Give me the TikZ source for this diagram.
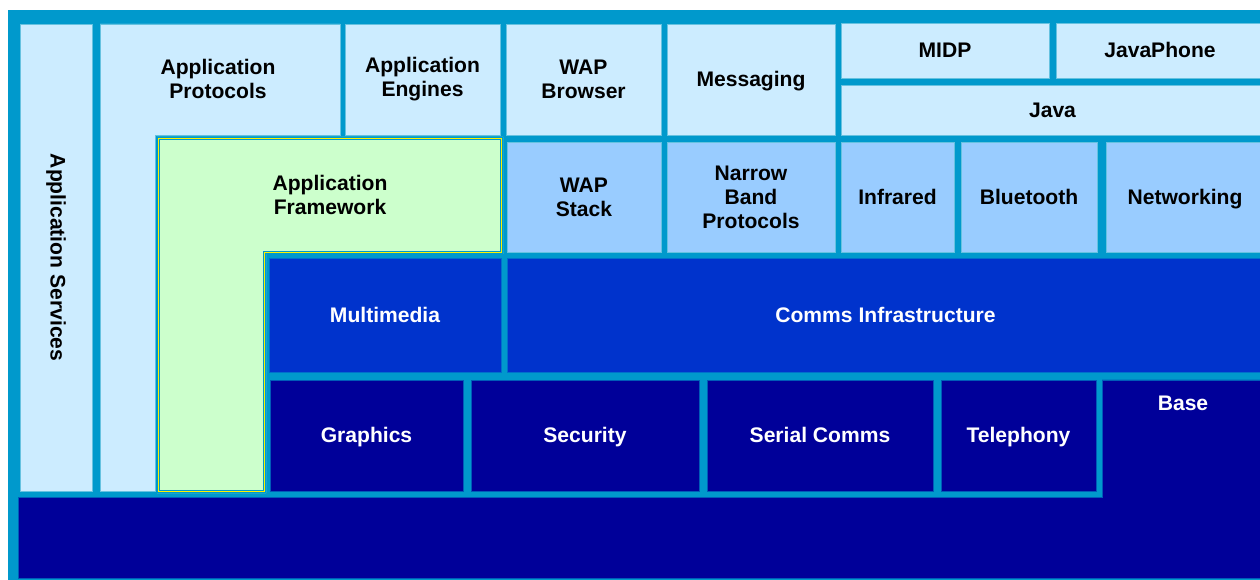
\documentclass[tikz,border=0pt]{standalone}
\usepackage{fontspec}
\setmainfont{Liberation Sans}
\definecolor{bgcyan}{HTML}{0099CC}
\definecolor{cellpale}{HTML}{CCECFF}
\definecolor{cellsky}{HTML}{99CCFF}
\definecolor{cellgreen}{HTML}{CCFFCC}
\definecolor{cellroyal}{HTML}{0033CC}
\definecolor{cellnavy}{HTML}{000099}
\tikzset{
  lightcell/.style={fill=cellpale, draw=bgcyan!60!white, line width=0.5pt},
  skycell/.style={fill=cellsky, draw=bgcyan!60!white, line width=0.5pt},
  royalcell/.style={fill=cellroyal, draw=bgcyan!60!cellroyal, line width=0.5pt},
  navycell/.style={fill=cellnavy, draw=bgcyan!60!cellnavy, line width=0.5pt},
  darklabel/.style={text=black, align=center, font=\fontsize{12}{13.6}\selectfont\bfseries},
  whitelabel/.style={text=white, align=center, font=\fontsize{12}{13.6}\selectfont\bfseries},
  oneline/.style={text height=0.9em, text depth=0.1em}
}
\begin{document}
\begin{tikzpicture}[x=0.02cm, y=-0.02cm]
        \useasboundingbox (0,0) rectangle (1260,580);
        \fill[bgcyan] (8,10) rectangle (1260,580);

        % 1. application services and protocols
        \draw[lightcell] (20,24) rectangle node[darklabel, rotate=-90] (appserv) {Application Services} (92,491);
        \draw[lightcell] (100,24) -- (340,24) -- (340,135) -- (155,135) -- (155,491) -- (100,491) -- cycle;
        \node[darklabel] (approt) at (218,79) {Application\\Protocols};

        % 2. top row
        \draw[lightcell] (345,24) rectangle node[darklabel] (appeng) {Application\\Engines} (500,135);
        \draw[lightcell] (506,24) rectangle node[darklabel] (wapbrow) {WAP\\Browser} (661,135);
        \draw[lightcell] (667,24) rectangle node[darklabel, oneline] (msg) {Messaging} (835,135);
        \draw[lightcell] (841,23) rectangle node[darklabel, oneline] (midp) {MIDP} (1049,78);
        \draw[lightcell] (1056,23) rectangle node[darklabel, oneline] (javaphone) {JavaPhone} (1264,78);
        \draw[lightcell] (841,85) rectangle node[darklabel, oneline] (java) {Java} (1264,135);

        % 3. application framework
        \fill[cellgreen] (157,137) -- (503,137) -- (503,254) -- (266,254) -- (266,493) -- (157,493) -- cycle;
        \draw[draw=bgcyan, double=yellow, double distance=0.8pt, line width=0.4pt]
          (158.5,138.5) -- (501.5,138.5) -- (501.5,252.5) -- (264.5,252.5) -- (264.5,491.5) -- (158.5,491.5) -- cycle;
        \node[darklabel] (appfw) at (330,195) {Application\\Framework};

        % 4. second row
        \draw[skycell] (507,142) rectangle node[darklabel] (wapstack) {WAP\\Stack} (661,252);
        \draw[skycell] (667,142) rectangle node[darklabel] (nbp) {Narrow\\Band\\Protocols} (835,252);
        \draw[skycell] (841,142) rectangle node[darklabel, oneline] (infrared) {Infrared} (954,252);
        \draw[skycell] (961,142) rectangle node[darklabel, oneline] (bluetooth) {Bluetooth} (1097,252);
        \draw[skycell] (1106,142) rectangle node[darklabel, oneline] (networking) {Networking} (1264,252);

        % 5. third row
        \draw[royalcell] (269,258) rectangle node[whitelabel, oneline] (multimedia) {Multimedia} (501,372);
        \draw[royalcell] (507,258) rectangle node[whitelabel, oneline] (comms) {Comms Infrastructure} (1264,372);

        % 6. fourth row
        \draw[navycell] (270,380) rectangle node[whitelabel, oneline] (graphics) {Graphics} (463,491);
        \draw[navycell] (471,380) rectangle node[whitelabel, oneline] (security) {Security} (699,491);
        \draw[navycell] (707,380) rectangle node[whitelabel, oneline] (serial) {Serial Comms} (933,491);
        \draw[navycell] (941,380) rectangle node[whitelabel, oneline] (telephony) {Telephony} (1096,491);

        % 7. base
        \draw[navycell] (1102,380) -- (1264,380) -- (1264,578) -- (18,578) -- (18,497) -- (1102,497) -- cycle;
        \node[whitelabel, oneline] (base) at (1183,403) {Base};
    \end{tikzpicture}
\end{document}
